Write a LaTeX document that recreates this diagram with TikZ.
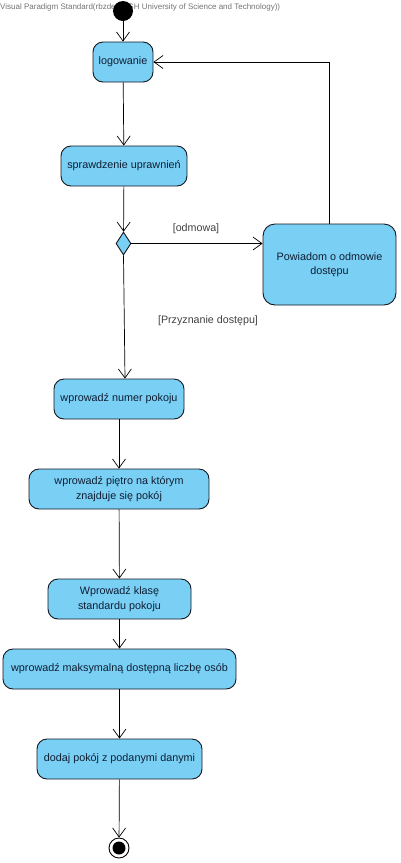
\documentclass[tikz,border=0pt]{standalone}
\usepackage{fontspec}
\setmainfont{Liberation Sans}
\usetikzlibrary{arrows.meta,shapes.geometric}
\definecolor{actfill}{RGB}{122,207,245}
\definecolor{actline}{RGB}{20,24,30}
\definecolor{acttext}{RGB}{15,30,50}
\tikzset{
  act/.style={draw=actline, fill=actfill, line width=0.9pt, rounded corners=10pt,
    inner sep=0pt, align=center, text=acttext, font=\fontsize{10.8}{14.5}\selectfont},
  flow/.style={draw=black, line width=0.7pt, -{Straight Barb[length=9pt,width=13pt]}},
  guard/.style={text=black!75, font=\fontsize{10.7}{12}\selectfont, inner sep=0pt}
}
\begin{document}
\begin{tikzpicture}[x=1pt,y=-1pt]
\useasboundingbox (0,0) rectangle (400,863);
\node[anchor=west, text=black!55, font=\fontsize{8}{9}\selectfont, inner sep=0pt] (wm) at (0,7) {Visual Paradigm Standard(rbzdek(AGH University of Science and Technology))};
\node[circle, fill=black, minimum size=20pt, inner sep=0pt] (start) at (123,11) {};
\node[act, minimum width=60pt, minimum height=40pt] (log) at (123,62) {logowanie};
\node[act, minimum width=126pt, minimum height=40pt] (spr) at (124,166) {sprawdzenie uprawnień};
\node[diamond, draw=actline, fill=actfill, line width=0.9pt, minimum width=15pt, minimum height=23pt, inner sep=0pt] (dec) at (123.5,243.5) {};
\node[act, rounded corners=12pt, minimum width=133pt, minimum height=81pt] (pow) at (329.5,264.5) {Powiadom o odmowie\\dostępu};
\node[act, minimum width=130pt, minimum height=40pt] (num) at (119,399) {wprowadź numer pokoju};
\node[act, minimum width=180pt, minimum height=40pt] (pie) at (119,489) {wprowadź piętro na którym\\znajduje się pokój};
\node[act, minimum width=143pt, minimum height=40pt] (kla) at (119.5,599) {Wprowadź klasę\\standardu pokoju};
\node[act, minimum width=233pt, minimum height=40pt] (mak) at (119.5,669) {wprowadź maksymalną dostępną liczbę osób};
\node[act, minimum width=165pt, minimum height=40pt] (dod) at (119.5,759) {dodaj pokój z podanymi danymi};
\node[circle, draw=black, fill=white, line width=0.9pt, minimum size=20pt, inner sep=0pt,
  path picture={\fill[black] (path picture bounding box.center) circle (6.5pt);}] (end) at (119,848) {};

\draw[flow] (start) -- (log);
\draw[flow] (log) -- (spr);
\draw[flow] (spr) -- (dec);
\draw[flow] (dec.east) -- (dec.east -| pow.west);
\draw[flow] (pow.north) |- (log.east);
\draw[flow] (dec.south) -- ([xshift=6pt]num.north);
\draw[flow] (num) -- (pie);
\draw[flow] (pie) -- (kla);
\draw[flow] (kla) -- (mak);
\draw[flow] (mak) -- (dod);
\draw[flow] (dod) -- (end);

\node[guard] (godm) at (196,229) {[odmowa]};
\node[guard] (gprz) at (208,321) {[Przyznanie dostępu]};
\end{tikzpicture}
\end{document}
